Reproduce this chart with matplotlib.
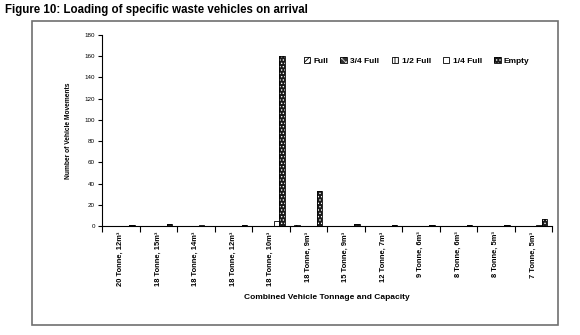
import matplotlib
matplotlib.use("Agg")
import matplotlib.pyplot as plt
import numpy as np
from matplotlib.patches import Rectangle, Patch
from matplotlib.legend_handler import HandlerTuple

plt.rcParams['font.family'] = ['Liberation Sans', 'DejaVu Sans']

categories = ["20 Tonne, 12m³", "18 Tonne, 15m³", "18 Tonne, 14m³", "18 Tonne, 12m³",
              "18 Tonne, 10m³", "18 Tonne, 9m³", "15 Tonne, 9m³", "12 Tonne, 7m³",
              "9 Tonne, 6m³", "8 Tonne, 6m³", "8 Tonne, 5m³", "7 Tonne, 5m³"]
series_names = ["Full", "3/4 Full", "1/2 Full", "1/4 Full", "Empty"]
full         = [0, 0, 0, 0, 0, 1, 0, 0, 0, 0, 0, 0]
three_quart  = [0, 0, 0, 0, 0, 0, 0, 0, 0, 0, 0, 0]
half         = [0, 0, 0, 0, 0, 0, 0, 0, 0, 0, 0, 0]
quarter      = [0, 0, 1, 0, 5, 0, 0, 0, 0, 0, 0, 1]
empty        = [1, 2, 0, 1, 160, 33, 2, 1, 1, 1, 1, 7]
yticks = list(range(0, 181, 20))

series = [full, three_quart, half, quarter, empty]
styles = [
    dict(face='white', hatch='//////', hcolor='black'),
    dict(face='#333333', hatch='xxxx', hcolor='#dddddd'),
    dict(face='white', hatch='|||||', hcolor='black'),
    dict(face='white', hatch='', hcolor='black'),
    dict(face='#1a1a1a', hatch='.....', hcolor='white'),
]

W, H = 580, 335
fig = plt.figure(figsize=(W/100, H/100), dpi=100)
fig.patches.append(Rectangle((32/W, 1-325/H), (558-32)/W, (325-21)/H,
                             transform=fig.transFigure, fill=False,
                             edgecolor='#707070', lw=1.2))
fig.text(5/W, 1-10/H, "Figure 10: Loading of specific waste vehicles on arrival",
         fontsize=8.3, fontweight='bold', va='center', ha='left',
         family=['Liberation Sans Narrow', 'Liberation Sans', 'DejaVu Sans'])

ax = fig.add_axes([102/W, 1-226/H, (552-102)/W, (226-35)/H])
plt.rcParams['hatch.linewidth'] = 0.6
x = np.arange(len(categories))
bw = 0.147
handles = []
for i, (vals, st) in enumerate(zip(series, styles)):
    pos = x - 2*bw + i*bw
    with plt.rc_context({'hatch.color': st['hcolor']}):
        ax.bar(pos, vals, bw, color=st['face'], hatch=st['hatch'] or None,
               linewidth=0)
        p = Patch(facecolor=st['face'], hatch=st['hatch'] or None, linewidth=0)
    ax.bar(pos, vals, bw, fill=False, edgecolor='black', linewidth=0.6)
    p2 = Patch(fill=False, edgecolor='black', linewidth=0.6)
    handles.append((p, p2))

ax.set_xlim(-0.5, len(categories)-0.5)
ax.set_ylim(0, 180)
ax.set_yticks(yticks)
ax.set_yticklabels([str(v) for v in yticks], fontsize=4.5)
ax.set_xticks(np.arange(len(categories)+1) - 0.5)
ax.set_xticklabels([])
ax.set_xticks(x, minor=True)
ax.set_xticklabels(categories, minor=True, rotation=90, fontsize=5.4, fontweight='bold')
ax.tick_params(axis='x', which='minor', length=0, pad=4)
ax.tick_params(axis='x', which='major', length=4, width=0.8, direction='out')
ax.tick_params(axis='y', length=3, width=0.8, direction='out', pad=2)
for s in ['top', 'right']:
    ax.spines[s].set_visible(False)
for s in ['left', 'bottom']:
    ax.spines[s].set_linewidth(0.8)
ax.set_ylabel("Number of Vehicle Movements", fontsize=4.8, fontweight='bold', labelpad=9)
ax.set_xlabel("Combined Vehicle Tonnage and Capacity", fontsize=6, fontweight='bold', labelpad=6)

fig.legend(handles, series_names, loc='center left',
           bbox_to_anchor=(296/W, 1-61/H), ncol=5, frameon=False,
           prop={'size': 6, 'weight': 'bold'}, handlelength=0.8,
           handleheight=0.8, handletextpad=0.4, columnspacing=1.45,
           handler_map={tuple: HandlerTuple(ndivide=1, pad=0)})

fig.savefig("out.png", dpi=100)
